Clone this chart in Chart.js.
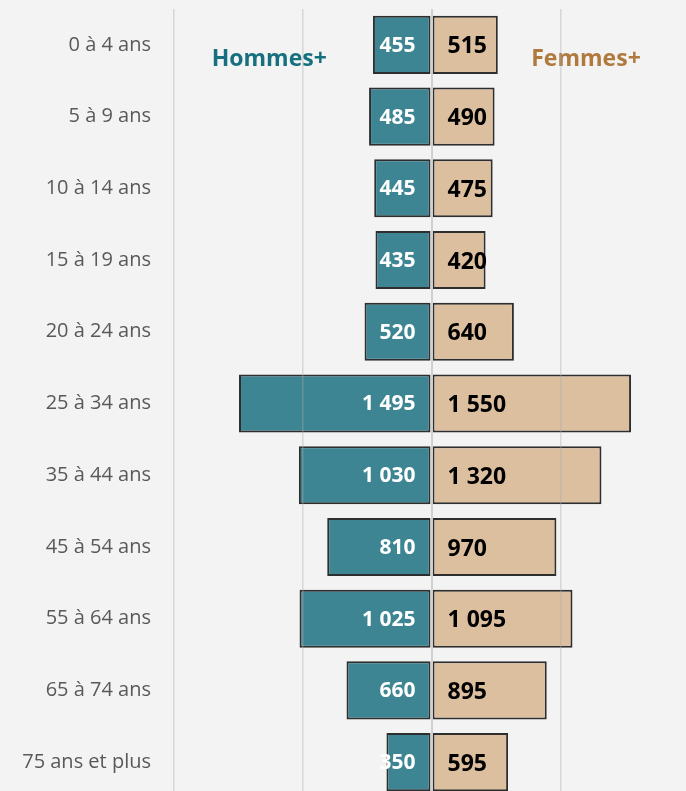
<!DOCTYPE html>
<html lang="fr">
<head>
<meta charset="utf-8">
<script src="https://cdn.jsdelivr.net/npm/chart.js@4/dist/chart.umd.min.js"></script>
<style>
  html, body { margin: 0; padding: 0; background: #f3f3f3; overflow: hidden; }
  #wrap { position: relative; width: 689px; height: 798px; }
</style>
</head>
<body>
<div id="wrap"><canvas id="pyramide"></canvas></div>
<script>
// Tranches d'âge et effectifs par sexe
const ageGroups = ['0 à 4 ans', '5 à 9 ans', '10 à 14 ans', '15 à 19 ans', '20 à 24 ans',
  '25 à 34 ans', '35 à 44 ans', '45 à 54 ans', '55 à 64 ans', '65 à 74 ans', '75 ans et plus'];
const hommes = [455, 485, 445, 435, 520, 1495, 1030, 810, 1025, 660, 350];
const femmes = [515, 490, 475, 420, 640, 1550, 1320, 970, 1095, 895, 595];
const xTicks = [-2000, -1000, 0, 1000, 2000];
const seriesNames = ['Hommes+', 'Femmes+'];

const teal = '#3d8593';
const tan = '#dcbf9f';

// Nombre au format français : espace comme séparateur de milliers
const fmt = v => String(Math.abs(v)).replace(/\B(?=(\d{3})+(?!\d))/g, ' ');

// Valeurs écrites de part et d'autre de l'axe central, plus les deux titres de série
const labelsPlugin = {
  id: 'pyramidLabels',
  afterDatasetsDraw(chart) {
    const { ctx, scales: { x, y } } = chart;
    const x0 = x.getPixelForValue(0);
    ctx.save();
    ctx.textBaseline = 'middle';
    chart.data.datasets.forEach((ds, di) => {
      const meta = chart.getDatasetMeta(di);
      meta.data.forEach((bar, i) => {
        const v = ds.data[i];
        if (di === 0) {
          ctx.font = 'bold 21px "Open Sans"';
          ctx.fillStyle = '#ffffff';
          ctx.textAlign = 'right';
          ctx.fillText(fmt(v), x0 - 16, bar.y + 1);
        } else {
          ctx.font = 'bold 23px "Open Sans"';
          ctx.fillStyle = '#000000';
          ctx.textAlign = 'left';
          ctx.fillText(fmt(v), x0 + 16, bar.y + 2);
        }
      });
    });
    ctx.font = 'bold 23px "Open Sans"';
    ctx.textAlign = 'center';
    const yT = y.getPixelForValue(0) + 15;
    ctx.fillStyle = '#17707f';
    ctx.fillText(seriesNames[0], x.getPixelForValue(-1260), yT);
    ctx.fillStyle = '#b07a3e';
    ctx.fillText(seriesNames[1], x.getPixelForValue(1200), yT);
    ctx.restore();
  }
};

new Chart(document.getElementById('pyramide'), {
  type: 'bar',
  data: {
    labels: ageGroups,
    datasets: [
      {
        label: seriesNames[0],
        data: hommes.map(v => -v),
        backgroundColor: teal,
        borderColor: '#2e2e2e',
        borderWidth: 2,
        borderSkipped: false
      },
      {
        label: seriesNames[1],
        data: femmes,
        backgroundColor: tan,
        borderColor: '#2e2e2e',
        borderWidth: 2,
        borderSkipped: false
      }
    ]
  },
  options: {
    indexAxis: 'y',
    responsive: true,
    maintainAspectRatio: false,
    animation: false,
    layout: { padding: { top: 9, left: 0, right: 0, bottom: 0 } },
    datasets: { bar: { categoryPercentage: 0.81, barPercentage: 1 } },
    plugins: { legend: { display: false }, tooltip: { enabled: false } },
    scales: {
      x: {
        stacked: true,
        min: xTicks[0],
        max: xTicks[xTicks.length - 1],
        afterBuildTicks: s => { s.ticks = xTicks.map(v => ({ value: v })); },
        ticks: { display: false },
        border: { display: false },
        grid: {
          z: 1,
          drawTicks: false,
          lineWidth: c => (c.tick && c.tick.value === 0 ? 2 : 1.5),
          color: c => (c.tick && c.tick.value === 0 ? 'rgba(205,205,205,0.95)' : 'rgba(170,170,170,0.38)')
        }
      },
      y: {
        stacked: true,
        afterFit: s => {
          s.width = 174;
          s.paddingTop = 0;
          s.paddingBottom = 0;
        },
        border: { display: false },
        grid: { display: false, drawTicks: false },
        ticks: {
          padding: 23,
          color: '#595959',
          font: { family: '"Open Sans"', size: 20 }
        }
      }
    }
  },
  plugins: [labelsPlugin]
});
</script>
</body>
</html>
